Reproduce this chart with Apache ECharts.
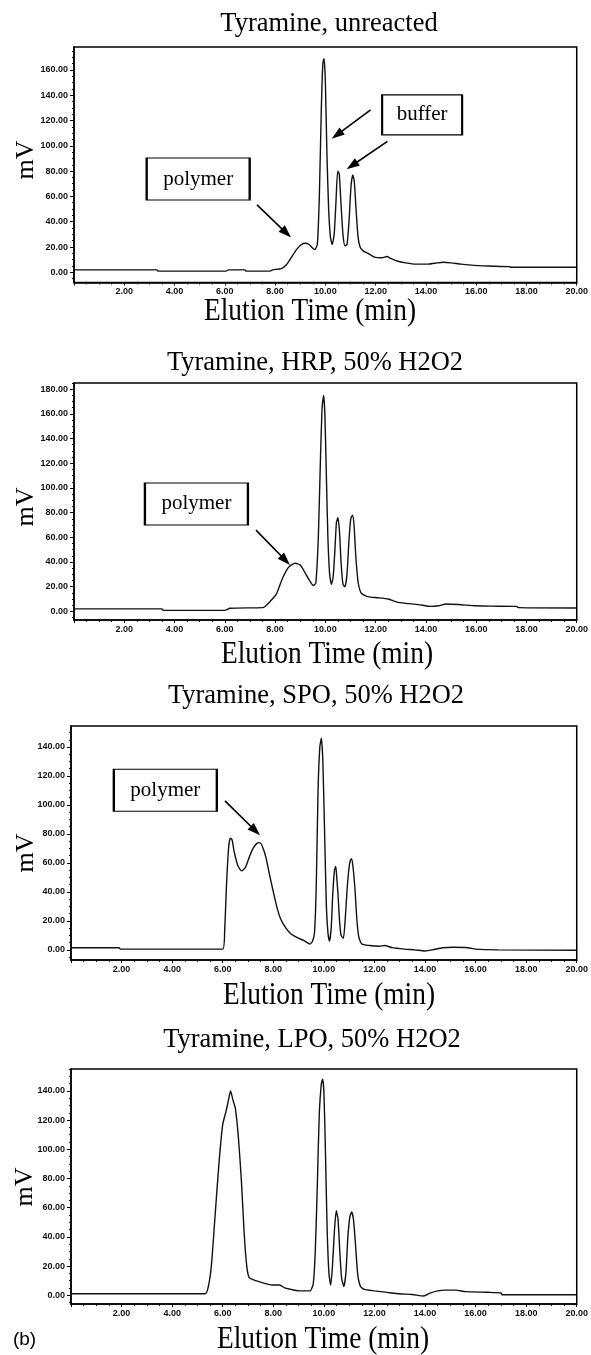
<!DOCTYPE html>
<html>
<head>
<meta charset="utf-8">
<title>Tyramine elution</title>
<script src="https://cdn.jsdelivr.net/npm/echarts@6/dist/echarts.min.js"></script>
<style>
  html, body { margin: 0; padding: 0; background: #fff; }
  #chart { width: 591px; height: 1355px; }
</style>
</head>
<body>
<div id="chart"></div>
<script>
// panel 1: unreacted
var tUnreacted = [0, 3.3, 3.35, 6.05, 6.15, 6.8, 6.85, 7.8, 7.9, 8.25, 8.45, 8.65, 8.85, 9.05, 9.2, 9.35, 9.5, 9.58, 9.68, 9.76, 9.84, 9.9, 9.95, 10.0, 10.06, 10.13, 10.2, 10.27, 10.35, 10.42, 10.49, 10.55, 10.62, 10.7, 10.78, 10.86, 10.94, 11.02, 11.09, 11.15, 11.22, 11.3, 11.38, 11.5, 11.7, 11.95, 12.25, 12.45, 12.6, 12.85, 13.2, 13.6, 14.1, 14.45, 14.7, 15.0, 15.4, 15.9, 16.5, 17.3, 17.4, 20];
var mvUnreacted = [2, 2, 1, 1, 2, 2, 1, 1, 2, 3, 6, 12, 18, 22, 23, 22, 19, 18, 22, 60, 130, 165, 169, 150, 95, 50, 28, 22, 30, 55, 80, 78, 55, 30, 21, 22, 40, 68, 77, 72, 50, 28, 20, 17, 15, 12, 11.5, 12.5, 11, 9, 7.5, 6.5, 6.5, 7.5, 8, 7.5, 6.5, 5.5, 5, 4.5, 4, 4];

// panel 2: HRP
var tHrp = [0, 3.5, 3.55, 6.0, 6.2, 7.5, 7.6, 7.8, 8.05, 8.3, 8.55, 8.8, 9.0, 9.2, 9.4, 9.52, 9.62, 9.72, 9.8, 9.87, 9.93, 9.98, 10.04, 10.1, 10.17, 10.24, 10.31, 10.38, 10.44, 10.5, 10.56, 10.63, 10.7, 10.78, 10.86, 10.94, 11.01, 11.08, 11.14, 11.21, 11.3, 11.42, 11.6, 11.8, 12.1, 12.5, 12.85, 13.2, 13.7, 14.2, 14.5, 14.8, 15.3, 16.0, 16.6, 17.6, 17.7, 20];
var mvHrp = [2, 2, 0.8, 0.8, 2.5, 3, 4, 8, 14, 27, 36, 39, 37.5, 31, 24, 21, 23, 60, 120, 165, 175, 160, 110, 60, 30, 22, 28, 50, 72, 76, 65, 38, 22, 20, 30, 58, 75, 78, 70, 45, 24, 15, 12.5, 11.5, 11, 10, 7.5, 6.5, 5.5, 4, 4.5, 6, 5.5, 4.5, 4.2, 4, 3, 2.7];

// panel 3: SPO
var tSpo = [0, 1.9, 1.95, 6.0, 6.08, 6.15, 6.23, 6.3, 6.37, 6.45, 6.6, 6.75, 6.9, 7.05, 7.2, 7.35, 7.47, 7.6, 7.72, 7.85, 8.0, 8.15, 8.3, 8.5, 8.7, 8.95, 9.2, 9.45, 9.55, 9.63, 9.7, 9.77, 9.84, 9.9, 9.96, 10.03, 10.1, 10.16, 10.22, 10.29, 10.35, 10.42, 10.47, 10.51, 10.56, 10.62, 10.68, 10.77, 10.84, 10.92, 10.99, 11.05, 11.1, 11.16, 11.23, 11.3, 11.38, 11.5, 11.8, 12.2, 12.4, 12.7, 13.2, 13.6, 14.0, 14.3, 14.7, 15.1, 15.7, 16.0, 16.9, 20];
var mvSpo = [1.5, 1.5, 0.5, 0.5, 15, 45, 70, 77, 76, 68, 58, 54.5, 57, 64, 70, 73.5, 74, 70, 63, 52, 40, 29, 21, 15, 11, 8.5, 6.5, 4, 6, 12, 45, 110, 140, 146, 130, 80, 30, 12, 6, 15, 38, 55, 57.5, 50, 38, 20, 10, 8, 20, 42, 56, 62, 63, 56, 42, 22, 9, 4, 3, 2.5, 3, 1.5, 0.5, 0, -0.8, 0, 1.5, 1.8, 1.5, 0.5, 0, -0.3];

// panel 4: LPO
var tLpo = [0, 5.3, 5.42, 5.55, 5.7, 5.85, 6.0, 6.13, 6.22, 6.31, 6.4, 6.5, 6.62, 6.74, 6.85, 6.95, 7.05, 7.3, 7.6, 7.95, 8.25, 8.45, 8.7, 9.0, 9.45, 9.58, 9.66, 9.74, 9.82, 9.9, 9.95, 10.0, 10.06, 10.13, 10.2, 10.27, 10.34, 10.42, 10.49, 10.56, 10.63, 10.7, 10.79, 10.87, 10.95, 11.03, 11.1, 11.17, 11.25, 11.34, 11.45, 11.6, 12.0, 12.5, 13.0, 13.5, 13.95, 14.2, 14.5, 14.8, 15.2, 15.6, 16.5, 17.0, 17.05, 20];
var mvLpo = [1, 1, 5, 20, 55, 90, 117, 126, 133, 140, 134, 128, 108, 78, 42, 20, 12, 10, 8.5, 7, 7, 5, 4, 3, 3, 8, 30, 75, 125, 145, 148, 140, 100, 45, 15, 7, 20, 45, 58, 52, 30, 12, 6, 15, 40, 54, 57, 52, 35, 14, 6, 4, 3, 2, 1, 0.5, -0.5, 1.5, 3, 3.5, 3.5, 2.5, 2, 1.5, 0.3, 0.3];

// tick labels
var yTicksUnreacted = [0, 20, 40, 60, 80, 100, 120, 140, 160];
var yTicksHrp = [0, 20, 40, 60, 80, 100, 120, 140, 160, 180];
var yTicksSpo = [0, 20, 40, 60, 80, 100, 120, 140];
var yTicksLpo = [0, 20, 40, 60, 80, 100, 120, 140];

var titles = ["Tyramine, unreacted", "Tyramine, HRP, 50% H2O2", "Tyramine, SPO, 50% H2O2", "Tyramine, LPO, 50% H2O2"];

// annotations (data coords): boxes and arrows
var polymerBoxes = [[4.94, 73.7], [4.87, 87.0], [3.73, 110.2]];
var polymerArrows = [
  [[7.28, 53.3], [8.45, 31.0]],
  [[7.24, 65.8], [8.41, 41.4]],
  [[6.09, 102.8], [7.29, 82.2]]
];
var bufferBox = [13.85, 124.4];
var bufferArrows = [
  [[11.8, 128.4], [10.46, 108.6]],
  [[12.47, 103.4], [11.06, 84.4]]
];

function pairs(t, v) {
  return t.map(function (x, i) { return [x, v[i]]; });
}
function minorOf(major, step) {
  var out = [];
  for (var i = 0; i < major.length; i++) {
    for (var k = 1; k < 4; k++) out.push(major[i] + k * step);
    if (i === 0) for (var j = 1; j < 2; j++) out.push(major[0] - j * step);
  }
  return out;
}

var panels = [
  { grid: { left: 74, top: 47, width: 507, height: 235.5 }, yMin: -8, yMax: 178, ticks: yTicksUnreacted, data: pairs(tUnreacted, mvUnreacted) },
  { grid: { left: 74, top: 383, width: 507, height: 237 }, yMin: -7, yMax: 185, ticks: yTicksHrp, data: pairs(tHrp, mvHrp) },
  { grid: { left: 71, top: 726, width: 506, height: 234 }, yMin: -7, yMax: 154.5, ticks: yTicksSpo, data: pairs(tSpo, mvSpo) },
  { grid: { left: 71, top: 1069, width: 506, height: 235 }, yMin: -6, yMax: 155, ticks: yTicksLpo, data: pairs(tLpo, mvLpo) }
];

var tickFont = { fontSize: 9, fontWeight: "bold", fontFamily: "Liberation Sans, Arial, sans-serif", color: "#111" };
var serif = "Liberation Serif, Times New Roman, serif";

var grids = [], xAxes = [], yAxes = [], series = [];
panels.forEach(function (p, i) {
  grids.push(Object.assign({ show: true, borderColor: "#000", borderWidth: 1.5, backgroundColor: "#fff" }, p.grid));
  xAxes.push({
    type: "value", gridIndex: i, min: 0, max: 20, interval: 2,
    axisLine: { show: true, onZero: false, lineStyle: { color: "#000", width: 1.5 } },
    axisTick: { show: true, length: 3, lineStyle: { color: "#000" } },
    minorTick: { show: true, splitNumber: 4, length: 2, lineStyle: { color: "#000" } },
    splitLine: { show: false },
    axisLabel: Object.assign({ margin: 5, showMinLabel: false, formatter: function (v) { return v.toFixed(2); } }, tickFont)
  });
  yAxes.push({
    type: "value", gridIndex: i, min: p.yMin, max: p.yMax,
    axisLine: { show: true, onZero: false, lineStyle: { color: "#000", width: 1.5 } },
    axisTick: { show: true, length: 4, customValues: p.ticks, lineStyle: { color: "#000" } },
    splitLine: { show: false },
    axisLabel: Object.assign({ margin: 6, customValues: p.ticks, formatter: function (v) { return v.toFixed(2); } }, tickFont)
  });
  // minor ticks on the mV axis
  yAxes.push({
    type: "value", gridIndex: i, min: p.yMin, max: p.yMax, position: "left",
    axisLine: { show: false },
    axisTick: { show: true, length: 2, customValues: minorOf(p.ticks, 5), lineStyle: { color: "#000" } },
    axisLabel: { show: false },
    splitLine: { show: false }
  });
  var s = {
    type: "line", xAxisIndex: i, yAxisIndex: i * 2,
    data: p.data, showSymbol: false, smooth: 0.2, silent: true,
    lineStyle: { color: "#111", width: 1.4 }
  };
  var arrows = [];
  var boxes = [];
  if (i < 3) {
    arrows.push([{ coord: polymerArrows[i][0] }, { coord: polymerArrows[i][1] }]);
    boxes.push({ coord: polymerBoxes[i], value: "polymer", symbolSize: [103, 42] });
  }
  if (i === 0) {
    bufferArrows.forEach(function (a) { arrows.push([{ coord: a[0] }, { coord: a[1] }]); });
    boxes.push({ coord: bufferBox, value: "buffer", symbolSize: [80, 40] });
  }
  if (arrows.length) {
    s.markLine = {
      silent: true, symbol: ["none", "triangle"], symbolSize: [9, 13],
      lineStyle: { color: "#000", width: 1.6, type: "solid" },
      label: { show: false }, data: arrows
    };
    s.markPoint = {
      silent: true, symbol: "rect",
      itemStyle: { color: "#fff", borderColor: "#000", borderWidth: 1.5 },
      label: { show: true, position: "inside", color: "#000", fontFamily: serif, fontSize: 21, formatter: function (d) { return d.value; } },
      data: boxes
    };
  }
  series.push(s);
});

var titlePos = [[329, 24], [315, 363], [316, 696], [312, 1040.5]];
var xNamePos = [[310, 312], [327, 655], [329, 995.5], [323, 1340]];
var yNamePos = [[25.7, 160], [26.5, 507], [26.5, 853], [25, 1187]];
var graphics = [];
titles.forEach(function (t, i) {
  graphics.push({ type: "text", x: titlePos[i][0], y: titlePos[i][1], silent: true,
    style: { text: t, font: "26.5px " + serif, fill: "#000", textAlign: "center", textVerticalAlign: "middle" } });
  graphics.push({ type: "text", x: xNamePos[i][0], y: xNamePos[i][1], scaleY: 1.17, silent: true,
    style: { text: "Elution Time (min)", font: "27.4px " + serif, fill: "#000", textAlign: "center", textVerticalAlign: "middle" } });
  graphics.push({ type: "text", x: yNamePos[i][0], y: yNamePos[i][1], rotation: Math.PI / 2, silent: true,
    style: { text: "mV", font: "26px " + serif, fill: "#000", textAlign: "center", textVerticalAlign: "middle" } });
});
graphics.push({ type: "text", x: 24.5, y: 1340, silent: true,
  style: { text: "(b)", font: "19px Liberation Sans, Arial, sans-serif", fill: "#000", textAlign: "center", textVerticalAlign: "middle" } });

var option = {
  animation: false,
  backgroundColor: "#fff",
  grid: grids,
  xAxis: xAxes,
  yAxis: yAxes,
  series: series,
  graphic: graphics
};

var chart = echarts.init(document.getElementById("chart"), null, { renderer: "canvas" });
chart.setOption(option);
</script>
</body>
</html>
